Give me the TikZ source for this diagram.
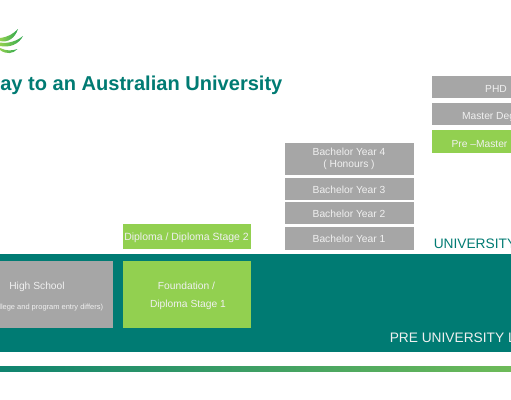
\documentclass[tikz,border=0pt]{standalone}
\usepackage{fontspec}
\setmainfont{Liberation Sans}
\definecolor{teal1}{HTML}{007B73}
\definecolor{gray1}{HTML}{A6A6A6}
\definecolor{green1}{HTML}{92D050}
\definecolor{leaf}{HTML}{2FA84F}
\definecolor{soft}{HTML}{F0F0F0}
\tikzset{
  pxbox/.style={inner sep=0pt,outer sep=0pt,align=center,text=soft,font=\fontsize{7.6}{10.5}\selectfont},
  graybox/.style={pxbox,fill=gray1},
  greenbox/.style={pxbox,fill=green1},
  lab/.style={inner sep=0pt,outer sep=0pt,text=soft,font=\fontsize{7.7}{9}\selectfont},
  swoosh/.style={left color=green1,right color=leaf,draw=none}
}
\newcommand{\pxrect}[6][graybox]{%
  \node[#1,minimum width={(#5-#3)*0.75pt},minimum height={(#6-#4)*0.75pt}] (#2) at ({(#3+#5)/2},{-(#4+#6)/2}) {};}
\begin{document}
\begin{tikzpicture}[x=0.75pt,y=0.75pt]
\useasboundingbox (0,0) rectangle (511,-400);
\clip (0,0) rectangle (511,-400);
\fill[white] (0,0) rectangle (511,-400);
% logo
\shade[swoosh] (0,-41) .. controls (8,-43) and (15,-38) .. (18,-29) .. controls (13,-34) and (8,-37) .. (0,-38) -- cycle;
\shade[swoosh] (0,-46) .. controls (10,-48) and (19,-44) .. (23,-36) .. controls (17,-41) and (8,-44) .. (0,-42.5) -- cycle;
\shade[swoosh] (0,-50) .. controls (6,-54.5) and (13,-54) .. (17.5,-49) .. controls (12,-51) and (6,-51) .. (0,-48) -- cycle;
% title
\node[inner sep=0pt,anchor=base west,text=teal1,font=\fontsize{15.05}{18}\selectfont\bfseries] (title) at (0,-90) {ay to an Australian University};
% bands
\fill[teal1] (0,-254) rectangle (511,-352);
\shade[left color=teal1!90!green1,right color=green1!75!teal1] (0,-366) rectangle (511,-371);
% pre-university boxes
\pxrect{hs}{-20}{261}{112.5}{328}
\pxrect[greenbox]{found}{122.5}{261}{251}{328}
\pxrect[greenbox]{dip}{122.5}{224}{251}{249}
\node[lab] (hslabel) at (37,-286.5) {High School};
\node[lab,anchor=base east,font=\fontsize{5.6}{6}\selectfont] (hssub) at (103,-309) {llege and program entry differs)};
\node[lab] (foundlabel) at (186.5,-286) {Foundation /};
\node[lab] (foundlabel2) at (188,-305) {Diploma Stage 1};
\node[lab,font=\fontsize{7.85}{9}\selectfont] (diplabel) at (186.5,-238) {Diploma / Diploma Stage 2};
% bachelor
\pxrect{by4}{285}{143}{413.7}{175}
\pxrect{by3}{285}{178}{413.7}{200}
\pxrect{by2}{285}{202}{413.7}{224}
\pxrect{by1}{285}{227}{413.7}{250}
\node[lab,align=center,font=\fontsize{7.7}{9.4}\selectfont] (by4l) at (349,-159) {Bachelor Year 4\\( Honours )};
\node[lab] (by3l) at (349,-190) {Bachelor Year 3};
\node[lab] (by2l) at (349,-214) {Bachelor Year 2};
\node[lab] (by1l) at (349,-239) {Bachelor Year 1};
% postgraduate
\pxrect{phd}{432}{76}{530}{98}
\pxrect{mas}{432}{103}{530}{125}
\pxrect[greenbox]{pre}{432}{130}{530}{153}
\node[lab] (phdl) at (496,-89) {PHD};
\node[lab,anchor=base west] (masl) at (462,-119) {Master Deg};
\node[lab,anchor=base west] (prel) at (451.5,-147) {Pre –Master};
% levels
\node[inner sep=0pt,anchor=base west,text=teal1,font=\fontsize{10.3}{12}\selectfont] (uni) at (433.5,-248) {UNIVERSITY};
\node[inner sep=0pt,anchor=base west,text=soft,font=\fontsize{10.3}{12}\selectfont] (preuni) at (389.5,-342) {PRE UNIVERSITY L};
\end{tikzpicture}
\end{document}
